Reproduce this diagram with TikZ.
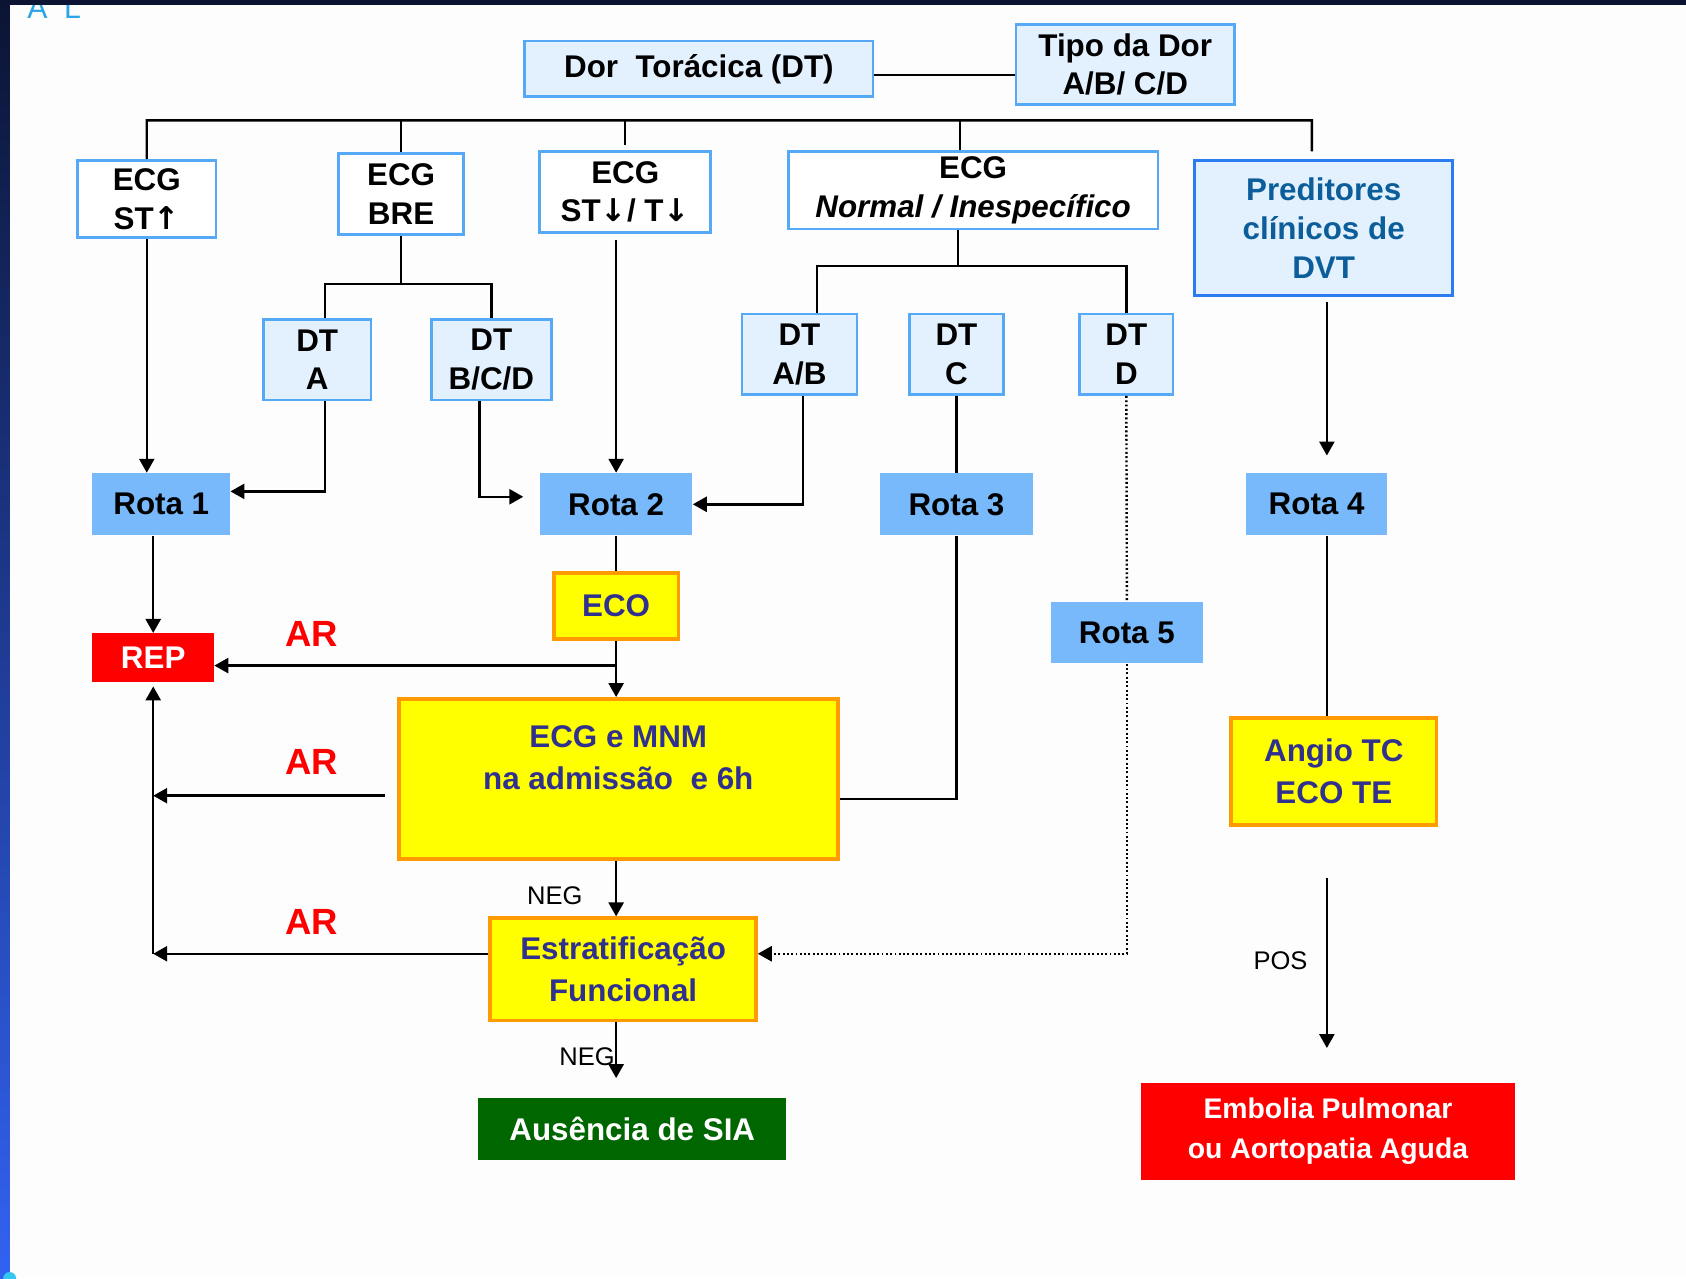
\documentclass[tikz,border=0pt]{standalone}
\usepackage{fontspec}
\setmainfont{Liberation Sans}
\newfontfamily\arrowfont{DejaVu Sans}
\usetikzlibrary{arrows.meta,positioning,calc}

\definecolor{pagebg}{HTML}{FDFDFD}
\definecolor{framedark}{HTML}{0B1433}
\definecolor{framelow}{HTML}{3262F2}
\definecolor{blip}{HTML}{33C8F0}
\definecolor{alblue}{HTML}{2CA4E6}
\definecolor{edgeblue}{HTML}{55A9F6}
\definecolor{predblue}{HTML}{2B7BF2}
\definecolor{paleblue}{HTML}{E3F0FD}
\definecolor{rotablue}{HTML}{77B9FB}
\definecolor{predtext}{HTML}{0B5E9A}
\definecolor{boxyellow}{HTML}{FFFF00}
\definecolor{boxorange}{HTML}{FF9A00}
\definecolor{ytext}{HTML}{30308F}
\definecolor{alarm}{HTML}{FF0000}
\definecolor{okgreen}{HTML}{006600}

\newcommand{\boxfont}{\fontsize{16.6}{20.5}\selectfont\bfseries}
\newcommand{\yfont}{\fontsize{16.6}{22.4}\selectfont\bfseries}
\newcommand{\embfont}{\fontsize{15}{21.6}\selectfont\bfseries}
\newcommand{\up}{{\arrowfont\bfseries ↑}}
\newcommand{\down}{{\arrowfont\bfseries ↓}}

\tikzset{
  sz/.style 2 args={minimum width=#1*0.2mm, minimum height=#2*0.2mm},
  base/.style={inner sep=0pt, align=center, font=\boxfont},
  ecgbox/.style={base, draw=edgeblue, fill=white, line width=0.5mm},
  dtbox/.style={base, draw=edgeblue, fill=paleblue, line width=0.5mm},
  predbox/.style={base, draw=predblue, fill=paleblue, line width=0.5mm, text=predtext},
  rotabox/.style={base, fill=rotablue},
  ybox/.style={base, draw=boxorange, fill=boxyellow, line width=0.7mm, text=ytext, font=\yfont},
  redbox/.style={base, fill=alarm, text=white},
  greenbox/.style={base, fill=okgreen, text=white},
  link/.style={line width=0.45mm},
  arr/.style={-{Triangle[width=2.8mm,length=2.6mm]}},
  dots/.style={dash pattern=on 0.35mm off 0.45mm},
  lbl/.style={inner sep=0pt, font=\fontsize{13.5}{14}\selectfont},
  ar/.style={inner sep=0pt, text=alarm, font=\fontsize{19.3}{20}\selectfont\bfseries},
}

\begin{document}
\begin{tikzpicture}[x=0.2mm, y=-0.2mm]
    \useasboundingbox (0,0) rectangle (1568,1189);
    \fill[pagebg] (0,0) rectangle (1568,1189);

    \node[dtbox, sz={324}{52}] (dor) at (650,64) {\raisebox{-0.8mm}{Dor\ \ Torácica (DT)}};
    \node[dtbox, sz={203}{74}] (tipo) at (1046.5,60) {Tipo da Dor\\A/B/ C/D};
    \node[ecgbox, sz={129}{72}] (ecgsup) at (136.5,185) {ECG\\ST\up};
    \node[ecgbox, sz={116}{75}] (ecgbre) at (373,180.5) {ECG\\BRE};
    \node[ecgbox, sz={159}{75}] (ecginf) at (581.5,178.5) {ECG\\ST\down/ T\down};
    \node[ecgbox, sz={344}{72}] (ecgnorm) at (905,177) {ECG\\\textit{Normal / Inespecífico}};
    \node[predbox, sz={240}{126}] (pred) at (1231,212) {Preditores\\clínicos de\\DVT};
    \node[dtbox, sz={100}{75}] (dta) at (295,334.5) {DT\\A};
    \node[dtbox, sz={112}{75}] (dtbcd) at (457,334.5) {DT\\B/C/D};
    \node[dtbox, sz={107}{75}] (dtab) at (743.5,329.5) {DT\\A/B};
    \node[dtbox, sz={87}{75}] (dtc) at (889.5,329.5) {DT\\C};
    \node[dtbox, sz={87}{75}] (dtd) at (1047.5,329.5) {DT\\D};
    \node[rotabox, sz={128}{58}] (rota1) at (150,469) {Rota 1};
    \node[rotabox, sz={142}{58}] (rota2) at (573,469) {Rota 2};
    \node[rotabox, sz={143}{58}] (rota3) at (889.5,469) {Rota 3};
    \node[rotabox, sz={131}{58}] (rota4) at (1224.5,469) {Rota 4};
    \node[rotabox, sz={142}{57}] (rota5) at (1048,588.5) {Rota 5};
    \node[ybox, sz={116}{61}] (eco) at (573,563.5) {ECO};
    \node[redbox, sz={113}{45}] (rep) at (142.5,611.5) {REP};
    \node[ybox, sz={408}{149}] (mnm) at (575,724.5) {ECG e MNM\\na admissão\ \ e 6h\\\mbox{}};
    \node[ybox, sz={247}{95}] (estrat) at (579.5,901.5) {Estratificação\\Funcional};
    \node[greenbox, sz={286}{58}] (sia) at (588,1050) {Ausência de SIA};
    \node[ybox, sz={191}{99}] (angio) at (1240.5,717.5) {Angio TC\\ECO TE};
    \node[redbox, sz={348}{90}, font=\embfont] (embolia) at (1235,1052) {Embolia Pulmonar\\ou Aortopatia Aguda};

    \node[ar] (ar1) at (290,590) {AR};
    \node[ar] (ar2) at (290,709) {AR};
    \node[ar] (ar3) at (290,857) {AR};
    \node[lbl] (neg1) at (516,833) {NEG};
    \node[lbl] (neg2) at (546,983) {NEG};

    \coordinate (dtj) at (816,70);
    \coordinate (busr) at (1220,112);
    \coordinate (c4) at (1234,0);
    \coordinate (arout) at (573,619);

    \draw[link] (dor.east |- dtj) -- (tipo.west |- dtj);
    \draw[link] (ecgsup.north) |- (busr) -- ([xshift=-2.2mm,yshift=1.4mm]pred.north);
    \draw[link] (ecgbre.north) -- (ecgbre.north |- busr);
    \draw[link] ([yshift=1mm]ecginf.north) -- (ecginf.north |- busr);
    \draw[link] ([xshift=-2.4mm]ecgnorm.north) -- ++(0,-29);

    \draw[link] (ecgbre.south) -- ++(0,45) coordinate (brej);
    \draw[link] ([xshift=1.4mm]dta.north) |- (brej) -| (dtbcd.north);
    \draw[link] ([xshift=-2.8mm]ecgnorm.south) -- ++(0,33) coordinate (normj);
    \draw[link] ([xshift=3.3mm]dtab.north) |- (normj) -| (dtd.north);

    \draw[link,arr] (ecgsup.south) -- (ecgsup.south |- rota1.north);
    \draw[link,arr] ([xshift=1.4mm]dta.south) |- ([yshift=2.4mm]rota1.east);
    \draw[link,arr] ([xshift=-2.2mm]dtbcd.south) |- ([xshift=-3mm,yshift=1.4mm]rota2.west);
    \draw[link,arr] ([yshift=-1.2mm]rota2.north |- ecginf.south) -- (rota2.north);
    \draw[link,arr] ([xshift=0.7mm]dtab.south) |- (rota2.east);
    \draw[link] (dtc.south) -- (rota3.north);
    \draw[link,dots] (dtd.south) -- (rota5.north);
    \draw[link,dots,arr] (rota5.south) |- ([yshift=2.9mm]estrat.east);

    \draw[link,arr,shorten >=3.2mm] ([yshift=-1mm]pred.south -| c4) -- (rota4.north -| c4);
    \draw[link] (rota4.south -| c4) -- (angio.north -| c4);
    \draw[link,arr,shorten <=9.6mm,shorten >=6.4mm] (angio.south -| c4) -- (embolia.north -| c4)
        node[midway, left=3.4mm, lbl, yshift=-1.2mm] (pos) {POS};

    \draw[link,arr] (rep.north |- rota1.south) -- (rep.north);
    \draw[link] (rota2.south) -- (eco.north);
    \draw[link,arr] (eco.south) -- (eco.south |- mnm.north);
    \draw[link,arr] (arout) -- (arout -| rep.east);
    \draw[link,arr] ([xshift=-2.2mm,yshift=-3.1mm]mnm.west) coordinate (mnmout) -- (mnmout -| rep.south);
    \draw[link,arr] ([yshift=2.9mm]estrat.west) coordinate (estout) -- (estout -| rep.south);
    \draw[link,arr] (estout -| rep.south) -- ([yshift=-0.8mm]rep.south);
    \draw[link] (rota3.south) |- ([yshift=-3.7mm]mnm.east);
    \draw[link,arr] (mnm.south -| eco.south) -- (estrat.north -| eco.south);
    \draw[link,arr,shorten >=3.6mm] (estrat.south -| eco.south) -- (sia.north -| eco.south);

    \node[inner sep=0pt, anchor=base west, text=alblue, font=\fontsize{16}{16}\selectfont] (al) at (25,17) {A\ \ L};
    \fill[framedark] (0,0) rectangle (1568,4.5);
    \shade[top color=framedark, bottom color=framelow] (0,0) rectangle (9,1189);
    \fill[blip] (9,1189) circle[radius=6];
\end{tikzpicture}
\end{document}
